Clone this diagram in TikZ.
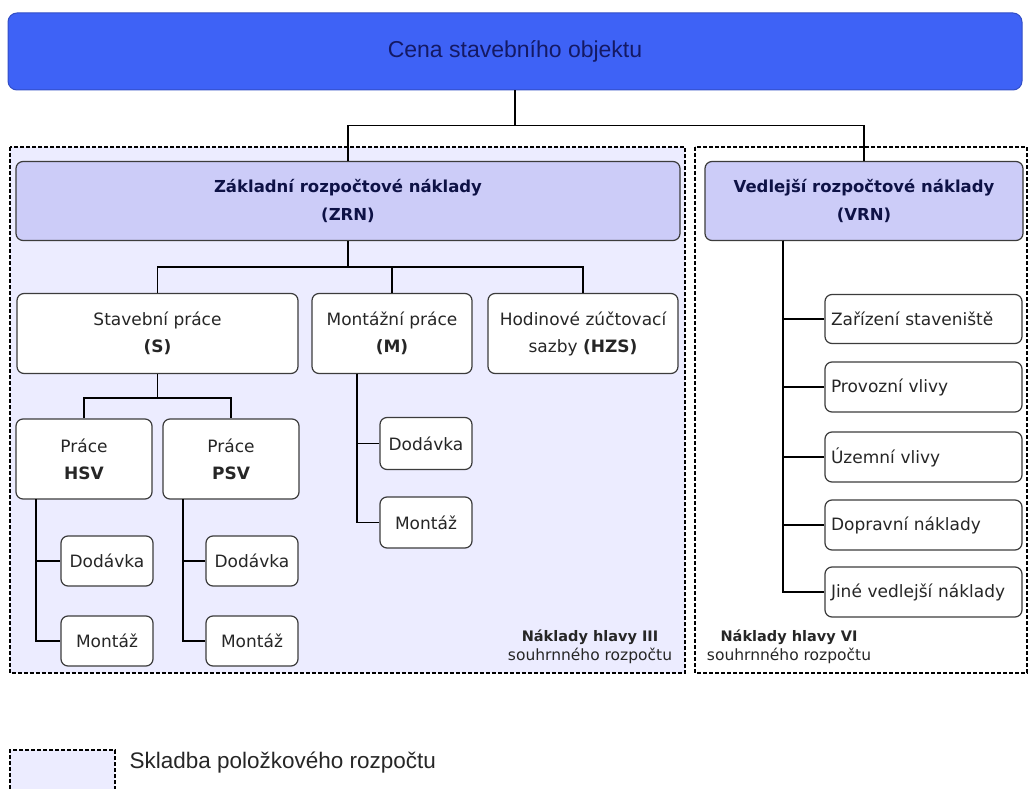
\documentclass[tikz,border=0pt]{standalone}
\usepackage{fontspec}
\setmainfont{DejaVu Sans}
\newfontfamily\arialfont{Liberation Sans}
\definecolor{cenablue}{RGB}{62,98,246}
\definecolor{cenatext}{RGB}{20,25,100}
\definecolor{hlavni}{RGB}{204,204,248}
\definecolor{oblast}{RGB}{236,236,255}
\definecolor{ramec}{RGB}{60,60,60}
\tikzset{
  conn/.style={line width=1.4pt, black},
  area/.style={draw=black, line width=1.1pt, dash pattern=on 4pt off 2pt},
  box/.style={draw=ramec, line width=1.2pt, rounded corners=7pt, fill=white,
    align=center, inner sep=0pt, text=black!85, font=\fontsize{17}{27}\selectfont},
  sub/.style={box, minimum width=92pt, minimum height=50pt},
  vitem/.style={box, text width=185pt, inner xsep=6pt, minimum height=49pt, align=left},
  head/.style={box, fill=hlavni, minimum height=79pt, text=cenatext!70!black,
    font=\bfseries\fontsize{16.5}{28}\selectfont}
}
\begin{document}
\begin{tikzpicture}[x=1pt,y=-1pt]
    \useasboundingbox (0,0) rectangle (1029,789);
    % oblasti rozpoctu
    \filldraw[fill=oblast,area] (10,147) rectangle (685,673);
    \filldraw[fill=white,area] (695,147) rectangle (1027,673);
    \fill[oblast] (10,750) rectangle (115,789);
    \draw[area] (10,789) -- (10,750) -- (115,750) -- (115,789);
    \node[anchor=west, font=\arialfont\fontsize{22.5}{24}\selectfont, text=black!85] (legenda) at (126,763) {Skladba položkového rozpočtu};
    % hlavni uzly
    \node[draw=cenablue!80!black, line width=1pt, fill=cenablue, rounded corners=9pt, minimum width=1014pt, minimum height=77pt,
      text=cenatext, font=\arialfont\fontsize{23}{25}\selectfont] (cena) at (515,51.5) {Cena stavebního objektu};
    \node[head, minimum width=664pt] (zrn) at (348,201) {Základní rozpočtové náklady\\(ZRN)};
    \node[head, minimum width=318pt] (vrn) at (864,201) {Vedlejší rozpočtové náklady\\(VRN)};
    \node[box, minimum width=281pt, minimum height=80pt] (s) at (157.5,333.5) {Stavební práce\\\textbf{(S)}};
    \node[box, minimum width=160pt, minimum height=80pt] (m) at (392,333.5) {Montážní práce\\\textbf{(M)}};
    \node[box, minimum width=190pt, minimum height=80pt] (hzs) at (583,333.5) {Hodinové zúčtovací\\sazby \textbf{(HZS)}};
    \node[box, minimum width=136pt, minimum height=80pt] (hsv) at (84,459) {Práce\\\textbf{HSV}};
    \node[box, minimum width=136pt, minimum height=80pt] (psv) at (231,459) {Práce\\\textbf{PSV}};
    % dodavky a montaze
    \node[sub] (hsvd) at (107,561) {Dodávka};
    \node[sub] (hsvm) at (107,641) {Montáž};
    \node[sub] (psvd) at (252,561) {Dodávka};
    \node[sub] (psvm) at (252,641) {Montáž};
    \node[sub, minimum height=52pt] (md) at (426,443.5) {Dodávka};
    \node[sub, minimum height=51pt] (mm) at (426,522.5) {Montáž};
    % vedlejsi naklady
    \node[vitem] (zs) at (923.5,319) {Zařízení staveniště};
    \node[vitem, minimum height=50pt] (pv) at (923.5,387) {Provozní vlivy};
    \node[vitem, minimum height=50pt] (uv) at (923.5,457) {Územní vlivy};
    \node[vitem, minimum height=50pt] (dn) at (923.5,525) {Dopravní náklady};
    \node[vitem, minimum height=50pt] (jn) at (923.5,592) {Jiné vedlejší náklady};
    % popisky oblasti
    \node[align=center, text=black!85, font=\fontsize{15.5}{19}\selectfont] (h3) at (590,647) {\textbf{\fontsize{14.5}{19}\selectfont Náklady hlavy III}\\souhrnného rozpočtu};
    \node[align=center, text=black!85, font=\fontsize{15.5}{19}\selectfont] (h6) at (789,647) {\textbf{\fontsize{14.5}{19}\selectfont Náklady hlavy VI}\\souhrnného rozpočtu};
    % spojnice
    \draw[conn] (cena.south) -- ++(0,35) coordinate (j0);
    \draw[conn] (zrn.north) |- (j0) -| (vrn.north);
    \draw[conn] (zrn.south) -- ++(0,26) coordinate (j1);
    \draw[conn] (s.north) |- (j1) -| (hzs.north);
    \draw[conn] (j1) -| (m.north);
    \draw[conn] (s.south) -- ++(0,24) coordinate (j2);
    \draw[conn] (hsv.north) |- (j2) -| (psv.north);
    \coordinate (hsvt) at (36,499);
    \coordinate (psvt) at (183,499);
    \coordinate (mt) at (357,373.5);
    \coordinate (vt) at (783,240.5);
    \draw[conn] (hsvt) |- (hsvd.west);
    \draw[conn] (hsvt) |- (hsvm.west);
    \draw[conn] (psvt) |- (psvd.west);
    \draw[conn] (psvt) |- (psvm.west);
    \draw[conn] (mt) |- (md.west);
    \draw[conn] (mt) |- (mm.west);
    \foreach \n in {zs,pv,uv,dn,jn}
        \draw[conn] (vt) |- (\n.west);
\end{tikzpicture}
\end{document}
